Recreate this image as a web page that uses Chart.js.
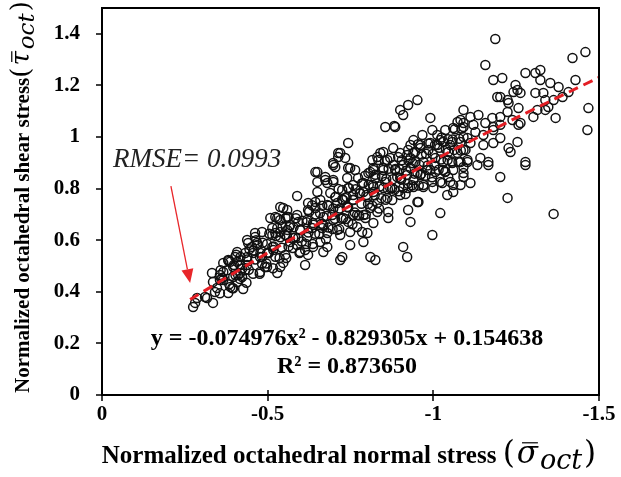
<!DOCTYPE html>
<html>
<head>
<meta charset="utf-8">
<title>Octahedral stress</title>
<script src="https://cdn.jsdelivr.net/npm/chart.js@4.4.0/dist/chart.umd.min.js"></script>
<style>
    html, body { margin: 0; padding: 0; background: #fff; }
    #wrap { width: 621px; height: 477px; }
</style>
</head>
<body>
<div id="wrap"><canvas id="stressChart" width="621" height="477"></canvas></div>
<script>
// Normalized octahedral normal stress (x) / shear stress (y)
const sigmaOct = [
    -0.275,-0.281,-0.287,-0.317,-0.335,-0.341,-0.347,-0.335,-0.332,-0.356,
    -0.381,-0.393,-0.426,-0.408,-0.366,-0.366,-0.381,-0.396,-0.408,-0.417,
    -0.432,-0.438,-0.441,-0.438,-0.462,-0.468,-0.477,-0.498,-0.529,-0.547,
    -0.514,-0.523,-0.514,-0.538,-0.538,-0.523,-0.559,-0.498,-0.456,-0.483,
    -0.311,-0.387,-0.396,-0.411,-0.423,-0.417,-0.387,-0.402,-0.408,-0.432,
    -0.462,-0.468,-0.477,-0.492,-0.538,-0.502,-0.517,-0.514,-0.538,-0.529,
    -0.508,-0.529,-0.547,-0.562,-0.589,-0.589,-0.559,-0.568,-0.589,-0.553,
    -0.598,-0.613,-0.622,-0.592,-0.619,-0.634,-0.619,-0.622,-0.644,-0.650,
    -0.650,-0.483,-0.453,-0.438,-0.366,-0.356,
    -0.698,-0.713,-0.734,-0.719,-0.644,-0.650,-0.674,-0.680,-0.698,
    -0.743,-0.764,-0.773,-0.804,-0.819,-0.816,-0.831,-0.559,-0.592,-0.622,
    -0.644,-0.659,-0.689,-0.704,-0.725,-0.743,-0.758,-0.789,-0.779,-0.801,
    -0.819,-0.831,-0.810,-0.770,-0.785,-0.801,-0.789,-0.749,-0.725,-0.810,
    -0.710,-0.680,-0.659,-0.637,-0.598,-0.577,-0.553,-0.568,-0.637,-0.668,
    -0.695,-0.713,-0.740,-0.758,-0.728,-0.665,-0.698,-0.743,-0.770,-0.795,
    -0.819,-0.613,-0.668,
    -0.698,-0.674,-0.704,-0.749,-0.810,-0.849,-0.885,-0.900,-0.931,-0.940,
    -0.961,-0.970,-1.000,-1.021,-1.045,-1.060,-1.030,-0.991,-0.740,-0.758,
    -0.789,-0.819,-0.861,-0.876,-0.900,-0.849,-0.924,-0.955,-0.924,-0.931,
    -0.864,-0.864,-1.021,-0.997,-0.909,-0.921,-0.825,-0.749,-0.719,-0.719,
    -0.680,-0.668,-0.728,-0.758,-0.789,-0.831,-0.680,-0.710,-0.734,
    -0.952,-0.924,-0.900,-0.909,-0.885,-0.855,-0.991,-1.091,-1.082,-1.091,
    -1.060,-1.036,-0.997,-1.012,-0.967,-0.940,-0.931,-0.961,-0.879,-0.849,
    -0.834,-0.870,-0.900,-0.921,-0.940,-0.985,-1.012,-1.030,-1.057,-1.082,
    -1.103,-1.045,-1.073,-1.097,-1.082,-1.103,-1.057,-1.030,-1.006,-0.970,
    -0.946,-0.909,-0.879,-0.849,-0.819,-0.825,-0.855,-0.891,-0.921,-0.952,
    -0.982,-1.006,-1.036,-1.060,-1.091,-1.051,-1.082,-1.027,-0.997,-0.970,
    -0.940,-0.909,-0.952,-0.870,-1.060,-1.042,
    -0.882,-0.743,-0.713,-0.698,-0.840,-1.073,-0.894,-0.931,-0.961,-0.991,
    -1.021,-1.051,-0.861,-0.924,
    -1.187,-1.157,-1.181,-1.208,-1.278,-1.308,-1.323,-1.323,-1.353,-1.420,
    -1.459,-1.429,-1.378,-1.408,-1.390,-1.248,-1.254,-1.263,-1.242,-1.308,
    -1.332,-1.338,-1.363,-1.193,-1.202,-1.224,-1.227,-1.224,-1.257,-1.314,
    -1.338,-1.347,-1.468,-1.465,-1.112,-1.136,-1.178,-1.202,-1.239,-1.263,
    -1.302,-1.369,-1.091,-1.121,-1.157,-1.181,-1.202,-1.127,-1.151,-1.181,
    -1.202,-1.254,-1.257,-1.091,-1.112,-1.151,-1.181,-1.227,-1.233,-1.142,
    -1.166,-1.278,-1.091,-1.103,
    -1.091,-1.091,-1.112,-1.133,-1.166,-1.202,-1.224,-1.363,-1.278
];
const tauOct = [
    0.341,0.357,0.376,0.376,0.357,0.399,0.415,0.438,0.473,0.446,
    0.395,0.415,0.411,0.438,0.477,0.512,0.523,0.496,0.516,0.473,
    0.484,0.535,0.589,0.601,0.628,0.589,0.477,0.496,0.473,0.512,
    0.574,0.628,0.647,0.678,0.729,0.690,0.717,0.550,0.550,0.535,
    0.380,0.419,0.457,0.465,0.457,0.504,0.516,0.535,0.554,0.550,
    0.612,0.581,0.535,0.496,0.496,0.550,0.562,0.620,0.632,0.647,
    0.686,0.686,0.725,0.690,0.698,0.771,0.640,0.593,0.581,0.543,
    0.554,0.504,0.543,0.609,0.612,0.647,0.678,0.717,0.748,0.787,
    0.864,0.632,0.574,0.504,0.446,0.465,
    0.891,0.922,0.919,0.938,0.864,0.826,0.845,0.822,0.826,
    0.880,0.872,0.841,0.860,0.880,0.911,0.922,0.690,0.671,0.744,
    0.725,0.756,0.783,0.767,0.795,0.802,0.814,0.822,0.783,0.767,
    0.806,0.744,0.725,0.651,0.632,0.628,0.593,0.581,0.535,0.535,
    0.640,0.628,0.593,0.574,0.640,0.609,0.620,0.659,0.667,0.690,
    0.698,0.717,0.729,0.756,0.756,0.647,0.678,0.671,0.698,0.686,
    0.667,0.562,0.554,
    0.833,0.833,0.884,0.880,0.864,0.880,0.872,0.841,0.880,0.833,
    0.853,0.806,0.802,0.826,0.845,0.814,0.872,0.872,0.841,0.775,
    0.787,0.787,0.764,0.802,0.775,0.802,0.802,0.748,0.717,0.671,
    0.709,0.686,0.705,0.620,0.574,0.535,0.523,0.632,0.523,0.620,
    0.574,0.659,0.686,0.698,0.698,0.709,0.736,0.744,0.764,
    1.143,1.124,1.105,1.085,1.039,1.039,1.074,1.105,1.066,1.039,
    1.035,1.027,1.027,1.008,1.008,0.988,0.969,0.969,0.957,0.942,
    0.911,0.919,0.938,0.930,0.938,0.950,0.969,0.981,0.981,0.981,
    0.996,0.942,0.938,0.950,0.903,0.903,0.899,0.903,0.919,0.903,
    0.903,0.891,0.891,0.872,0.872,0.841,0.826,0.845,0.853,0.860,
    0.872,0.864,0.864,0.872,0.860,0.826,0.814,0.822,0.826,0.814,
    0.806,0.802,0.748,0.802,0.787,0.775,
    1.043,0.977,0.938,0.899,0.938,1.058,0.922,0.919,0.957,0.977,
    0.988,0.969,0.911,0.950,
    1.380,1.279,1.221,1.229,1.248,1.248,1.260,1.221,1.209,1.306,
    1.329,1.221,1.194,1.174,1.155,1.202,1.182,1.171,1.174,1.171,
    1.171,1.143,1.143,1.155,1.155,1.143,1.132,1.097,1.112,1.105,
    1.105,1.116,1.112,1.027,1.078,1.085,1.074,1.078,1.066,1.054,
    1.078,1.074,1.054,1.047,1.054,1.039,1.047,1.019,1.008,1.027,
    0.996,0.981,1.047,1.000,0.977,0.969,0.977,0.957,0.942,0.919,
    0.903,0.903,0.950,0.911,
    0.884,0.845,0.822,0.891,0.891,0.845,0.764,0.702,0.891
];

// Overlapping circles inside the solid black core of the band
const coreSigma = [
    -0.356,-0.363,-0.358,
    -0.384,-0.377,-0.382,
    -0.396,-0.403,-0.398,-0.405,
    -0.416,-0.423,-0.418,
    -0.436,-0.443,-0.438,-0.445,
    -0.456,-0.463,-0.458,-0.465,
    -0.476,-0.483,-0.478,-0.485,
    -0.496,-0.503,-0.498,-0.505,
    -0.516,-0.523,-0.518,-0.525,
    -0.536,-0.543,-0.538,-0.545,
    -0.556,-0.563,-0.558,-0.565,-0.554,
    -0.576,-0.583,-0.578,-0.585,
    -0.596,-0.603,-0.598,-0.605,
    -0.616,-0.623,-0.618,-0.625,
    -0.636,-0.643,-0.638,-0.645,-0.634,
    -0.656,-0.663,-0.658,-0.665,
    -0.676,-0.683,-0.678,-0.685,
    -0.696,-0.703,-0.698,-0.705,
    -0.716,-0.723,-0.718,-0.725,-0.714,
    -0.736,-0.743,-0.738,-0.745,
    -0.756,-0.763,-0.758,-0.765,
    -0.776,-0.783,-0.778,-0.785,
    -0.796,-0.803,-0.798,-0.805,-0.794,
    -0.816,-0.823,-0.818,-0.825,
    -0.836,-0.843,-0.838,-0.845,
    -0.856,-0.863,-0.858,-0.865,-0.854,
    -0.876,-0.883,-0.878,-0.885,
    -0.896,-0.903,-0.898,-0.905,
    -0.916,-0.923,-0.918,-0.925,
    -0.936,-0.943,-0.938,-0.945,
    -0.956,-0.963,-0.958,-0.965,-0.954,
    -0.976,-0.983,-0.978,-0.985,
    -0.996,-1.003,-0.998,-1.005,
    -1.016,-1.023,-1.018,-1.025,
    -1.036,-1.043,-1.038,-1.045,
    -1.056,-1.063,-1.058,-1.065,
    -1.076,-1.083,-1.078,-1.085
];
const coreTau = [
    0.394,0.454,0.484,
    0.429,0.484,0.519,
    0.414,0.464,0.504,0.544,
    0.450,0.490,0.535,
    0.435,0.485,0.525,0.565,
    0.470,0.525,0.560,0.600,
    0.470,0.510,0.550,0.590,
    0.510,0.550,0.585,0.625,
    0.491,0.536,0.576,0.616,
    0.531,0.571,0.611,0.651,
    0.531,0.576,0.616,0.651,0.686,
    0.570,0.610,0.650,0.685,
    0.550,0.595,0.640,0.675,
    0.585,0.630,0.670,0.710,
    0.585,0.625,0.660,0.700,0.735,
    0.624,0.664,0.704,0.734,
    0.604,0.649,0.694,0.734,
    0.643,0.683,0.723,0.768,
    0.643,0.683,0.723,0.758,0.798,
    0.682,0.727,0.767,0.802,
    0.662,0.707,0.757,0.797,
    0.696,0.741,0.781,0.821,
    0.700,0.740,0.775,0.815,0.850,
    0.734,0.774,0.814,0.854,
    0.723,0.763,0.808,0.848,
    0.757,0.797,0.837,0.877,0.907,
    0.756,0.796,0.836,0.876,
    0.790,0.835,0.875,0.910,
    0.779,0.819,0.869,0.909,
    0.813,0.858,0.898,0.943,
    0.812,0.857,0.892,0.932,0.972,
    0.850,0.890,0.935,0.975,
    0.844,0.889,0.934,0.969,
    0.873,0.913,0.958,0.998,
    0.866,0.911,0.951,0.991,
    0.905,0.950,0.990,1.030,
    0.903,0.948,0.993,1.033
];

// Dashed red trend line
const fitSigma = [-0.266, -0.5, -0.75, -1.0, -1.25, -1.5];
const fitTau = [0.370, 0.551, 0.734, 0.909, 1.074, 1.231];

// Axis ticks
const xTicks = [0, -0.5, -1, -1.5];
const yTicks = [0, 0.2, 0.4, 0.6, 0.8, 1, 1.2, 1.4];

// Texts
const xTitle = 'Normalized octahedral normal stress ';
const yTitle = 'Normalized octahedral shear stress';
const equationText = 'y = -0.074976x\u00B2 - 0.829305x + 0.154638';
const r2Text = 'R\u00B2 = 0.873650';
const rmseText = 'RMSE= 0.0993';

if (sigmaOct.length !== tauOct.length || coreSigma.length !== coreTau.length) {
    console.error('Data length mismatch');
}

const SERIF = '"Liberation Serif", "Times New Roman", serif';
const MATH = '"DejaVu Serif", "Liberation Serif", serif';

// Draws "main text (σ̄_oct)" centred on (cx, cy) in the current transform
function drawMathTitle(ctx, cx, cy, mainText, symbol, size) {
    const big = Math.round(size * 1.25);
    const small = Math.round(size * 1.08);
    const gap = 2;
    const parts = [
        { t: mainText, f: `bold ${size}px ${SERIF}`, dy: 0, g: 0 },
        { t: '(', f: `${big}px ${MATH}`, dy: 0, g: gap },
        { t: symbol, f: `italic ${big}px ${MATH}`, dy: 0, g: gap, bar: true },
        { t: 'oct', f: `italic ${small}px ${MATH}`, dy: size * 0.22, g: gap },
        { t: ')', f: `${big}px ${MATH}`, dy: 0, g: 0 }
    ];
    let total = 0;
    parts.forEach(p => {
        ctx.font = p.f;
        p.w = ctx.measureText(p.t).width;
        total += p.w + p.g;
    });
    let x = cx - total / 2;
    const base = cy + size * 0.33;
    ctx.textAlign = 'left';
    ctx.textBaseline = 'alphabetic';
    parts.forEach(p => {
        ctx.font = p.f;
        ctx.fillText(p.t, x, base + p.dy);
        if (p.bar) {
            ctx.lineWidth = 1.2;
            ctx.beginPath();
            ctx.moveTo(x + p.w * 0.25, base - big * 0.66);
            ctx.lineTo(x + p.w * 1.0, base - big * 0.66);
            ctx.stroke();
        }
        x += p.w + p.g;
    });
}

const frameAndNotes = {
    id: 'frameAndNotes',
    afterDraw(chart) {
        const { ctx, chartArea: a, scales: { x, y } } = chart;
        ctx.save();

        // Plot frame
        ctx.strokeStyle = '#000';
        ctx.lineWidth = 2;
        ctx.strokeRect(a.left, a.top, a.right - a.left, a.bottom - a.top);

        // Tick marks
        ctx.lineWidth = 1.5;
        ctx.beginPath();
        yTicks.forEach(v => {
            const py = Math.round(y.getPixelForValue(v));
            ctx.moveTo(a.left - 6, py);
            ctx.lineTo(a.left, py);
        });
        xTicks.forEach(v => {
            const px = Math.round(x.getPixelForValue(v));
            ctx.moveTo(px, a.bottom - 5);
            ctx.lineTo(px, a.bottom + 6);
        });
        ctx.stroke();

        // Axis titles
        ctx.fillStyle = '#000';
        ctx.strokeStyle = '#000';
        drawMathTitle(ctx, 349, 455, xTitle, '\u03C3', 25);
        ctx.save();
        ctx.translate(22, 197);
        ctx.rotate(-Math.PI / 2);
        drawMathTitle(ctx, 0, 0, yTitle, '\u03C4', 21);
        ctx.restore();

        // Regression equation
        ctx.font = `bold 24px ${SERIF}`;
        ctx.textAlign = 'center';
        ctx.textBaseline = 'middle';
        ctx.fillText(equationText, 347, 339);
        ctx.fillText(r2Text, 347, 367);

        // RMSE note with arrow
        ctx.font = `italic 27px ${SERIF}`;
        ctx.textAlign = 'left';
        ctx.textBaseline = 'alphabetic';
        ctx.fillStyle = '#222';
        ctx.fillText(rmseText, 113, 167);

        const x0 = x.getPixelForValue(-0.208), y0 = y.getPixelForValue(0.81);
        const x1 = x.getPixelForValue(-0.266), y1 = y.getPixelForValue(0.434);
        const ang = Math.atan2(y1 - y0, x1 - x0);
        const head = 14, half = 6;
        const bx = x1 - head * Math.cos(ang), by = y1 - head * Math.sin(ang);
        ctx.strokeStyle = '#e8262a';
        ctx.fillStyle = '#e8262a';
        ctx.lineWidth = 1.3;
        ctx.beginPath();
        ctx.moveTo(x0, y0);
        ctx.lineTo(bx, by);
        ctx.stroke();
        ctx.beginPath();
        ctx.moveTo(x1, y1);
        ctx.lineTo(bx + half * Math.sin(ang), by - half * Math.cos(ang));
        ctx.lineTo(bx - half * Math.sin(ang), by + half * Math.cos(ang));
        ctx.closePath();
        ctx.fill();

        ctx.restore();
    }
};

const tickFont = { family: SERIF, size: 21, weight: 'bold' };
const allSigma = sigmaOct.concat(coreSigma);
const allTau = tauOct.concat(coreTau);

new Chart(document.getElementById('stressChart'), {
    type: 'scatter',
    data: {
        datasets: [
            {
                type: 'line',
                label: 'Fit',
                data: fitSigma.map((s, i) => ({ x: s, y: fitTau[i] })),
                borderColor: '#e41e24',
                borderWidth: 3,
                borderDash: [10, 6],
                pointRadius: 0,
                tension: 0.3,
                fill: false,
                order: 0
            },
            {
                label: 'Data',
                data: allSigma.map((s, i) => ({ x: s, y: allTau[i] })),
                pointStyle: 'circle',
                pointRadius: 4.5,
                borderWidth: 1.5,
                borderColor: '#111',
                backgroundColor: 'rgba(0,0,0,0)',
                order: 1
            }
        ]
    },
    options: {
        responsive: false,
        animation: false,
        layout: { padding: { left: 0, right: 22, top: 8, bottom: 0 } },
        plugins: {
            legend: { display: false },
            tooltip: { enabled: false }
        },
        scales: {
            x: {
                type: 'linear',
                min: -1.5,
                max: 0,
                reverse: true,
                grid: { display: false, drawTicks: false },
                border: { display: false },
                afterBuildTicks: axis => { axis.ticks = xTicks.map(v => ({ value: v })); },
                afterFit: axis => {
                    axis.height = 82;
                    axis.paddingLeft = 0;
                    axis.paddingRight = 0;
                },
                ticks: {
                    font: tickFont,
                    color: '#000',
                    padding: 7,
                    maxRotation: 0,
                    callback: v => String(v)
                }
            },
            y: {
                type: 'linear',
                min: 0,
                max: 1.5,
                grid: { display: false, drawTicks: false },
                border: { display: false },
                afterBuildTicks: axis => { axis.ticks = yTicks.map(v => ({ value: v })); },
                afterFit: axis => {
                    axis.width = 102;
                    axis.paddingTop = 0;
                    axis.paddingBottom = 0;
                },
                ticks: {
                    font: tickFont,
                    color: '#000',
                    padding: 22,
                    callback: v => String(v)
                }
            }
        }
    },
    plugins: [frameAndNotes]
});
</script>
</body>
</html>
